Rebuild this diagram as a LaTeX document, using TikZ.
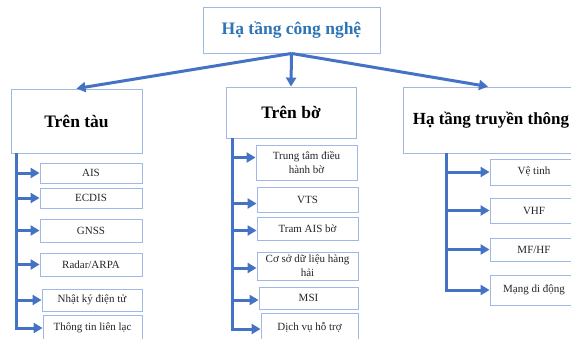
\documentclass[tikz,border=0pt]{standalone}
\usepackage{fontspec}
\setmainfont{Liberation Serif}
\usetikzlibrary{arrows.meta}
\definecolor{lineblue}{RGB}{68,114,196}
\definecolor{boxblue}{RGB}{160,184,228}
\definecolor{titleblue}{RGB}{46,117,182}
\definecolor{txt}{RGB}{38,38,38}
\tikzset{
  box/.style={draw=boxblue, line width=0.9pt, fill=white, inner sep=1pt, align=center},
  head/.style={box, font=\fontsize{17.5}{20}\selectfont\bfseries, text=black},
  leaf/.style={box, font=\fontsize{11}{13}\selectfont, text=txt},
  arr/.style={draw=lineblue, line width=3pt, -{Triangle[length=9pt,width=10pt]}},
}
\begin{document}
\begin{tikzpicture}[x=1pt,y=-1pt]
\useasboundingbox (0,0) rectangle (571,338);
\clip (0,0) rectangle (571,338);
\fill[white] (0,0) rectangle (571,338);
% top
\node[box, minimum width=177pt, minimum height=46pt, font=\fontsize{17.5}{20}\selectfont\bfseries, text=titleblue] (top) at (291.5,30) {Hạ tầng công nghệ};
% second level
\node[head, minimum width=131pt, minimum height=64pt] (s1) at (76.5,121) {Trên tàu};
\node[head, minimum width=130pt, minimum height=51pt] (s2) at (291,112.5) {Trên bờ};
\node[head, minimum width=176pt, minimum height=66pt, font=\fontsize{17}{20}\selectfont\bfseries] (s3) at (491,120) {Hạ tầng truyền thông};
\draw[arr] (top.south) -- (s1.north);
\draw[arr] (top.south) -- (s2.north);
\draw[arr] (top.south) -- ([xshift=-3pt]s3.north);
% left children
\node[leaf, minimum width=102pt, minimum height=20pt] (ais) at (91,173) {AIS};
\node[leaf, minimum width=102pt, minimum height=20pt] (ecdis) at (91,198) {ECDIS};
\node[leaf, minimum width=102pt, minimum height=23pt] (gnss) at (91,230.5) {GNSS};
\node[leaf, minimum width=102pt, minimum height=23pt] (radar) at (91,264.5) {Radar/ARPA};
\node[leaf, minimum width=100pt, minimum height=22pt] (nhatky) at (92,300) {Nhật ký điện tử};
\node[leaf, minimum width=99pt, minimum height=26pt] (thongtin) at (92.5,328) {Thông tin liên lạc};
\coordinate (t1) at ([xshift=6pt]s1.south west);
\foreach \c in {ais,ecdis,gnss,radar,nhatky,thongtin}
  \draw[arr] (t1) |- (\c.west);
% middle children
\node[leaf, minimum width=101pt, minimum height=35pt, font=\fontsize{11}{14}\selectfont] (ttdh) at (306.5,162.5) {Trung tâm điều\\hành bờ};
\node[leaf, minimum width=101pt, minimum height=25pt] (vts) at (307.5,199.5) {VTS};
\node[leaf, minimum width=101pt, minimum height=23pt] (tram) at (307.5,228.5) {Tram AIS bờ};
\node[leaf, minimum width=101pt, minimum height=28pt, font=\fontsize{11}{14}\selectfont] (csdl) at (307.5,266) {Cơ sở dữ liệu hàng\\hải};
\node[leaf, minimum width=99pt, minimum height=22pt] (msi) at (308.5,298) {MSI};
\node[leaf, minimum width=97pt, minimum height=28pt] (dv) at (309.5,327) {Dịch vụ hỗ trợ};
\coordinate (t2) at ([xshift=7pt]s2.south west);
\draw[arr] (t2) |- ([yshift=5pt]ttdh.west);
\draw[arr] (t2) |- ([yshift=-4pt]vts.west);
\foreach \c in {tram,csdl,msi,dv}
  \draw[arr] (t2) |- ([yshift=-2pt]\c.west);
% right children
\node[leaf, minimum width=88pt, minimum height=26pt] (vt) at (534,172) {Vệ tinh};
\node[leaf, minimum width=88pt, minimum height=25pt] (vhf) at (534,210.5) {VHF};
\node[leaf, minimum width=88pt, minimum height=23pt] (mf) at (534,249.5) {MF/HF};
\node[leaf, minimum width=88pt, minimum height=30pt] (mang) at (534,290) {Mạng di động};
\coordinate (t3) at ([xshift=44pt]s3.south west);
\foreach \c in {vt,vhf,mf,mang}
  \draw[arr] (t3) |- (\c.west);
\end{tikzpicture}
\end{document}
